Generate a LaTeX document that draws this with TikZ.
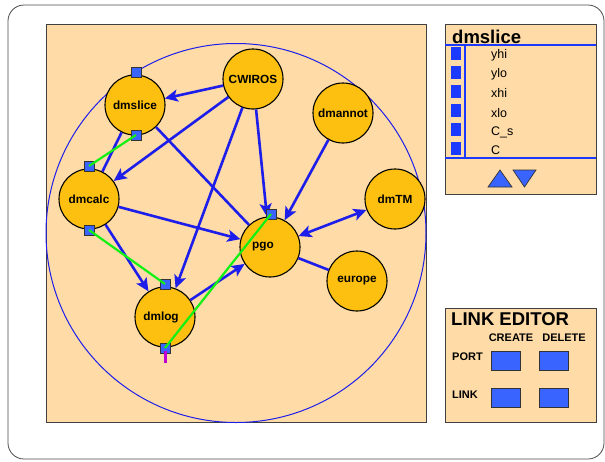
\documentclass[tikz,border=0pt]{standalone}
\usepackage{fontspec}
\setmainfont{Liberation Sans}
\usetikzlibrary{arrows.meta}
\definecolor{peach}{RGB}{254,219,167}
\definecolor{nodecol}{RGB}{253,192,16}
\definecolor{portblue}{RGB}{58,100,255}
\definecolor{lineblue}{RGB}{30,30,235}
\definecolor{listblue}{RGB}{28,58,255}
\definecolor{linkgreen}{RGB}{20,240,20}
\definecolor{magentaline}{RGB}{190,0,210}
\tikzset{
  proc/.style={circle, minimum size=60pt, inner sep=0pt, fill=nodecol, draw=black, line width=1.1pt, font=\fontsize{11.8}{13}\selectfont\bfseries},
  portbox/.style={rectangle, minimum size=10pt, inner sep=0pt, fill=portblue, draw=black!80, line width=0.6pt},
  conn/.style={draw=lineblue, line width=2.6pt},
  arr/.style={conn, -{Stealth[length=13pt,width=12pt,inset=3pt]}},
  darr/.style={conn, {Stealth[length=13pt,width=12pt,inset=3pt]}-{Stealth[length=13pt,width=12pt,inset=3pt]}},
  glink/.style={draw=linkgreen, line width=2.2pt},
  panel/.style={fill=peach, draw=black!75, line width=0.9pt},
  btn/.style={rectangle, minimum width=29pt, minimum height=19pt, inner sep=0pt, fill=portblue, draw=black!80, line width=0.7pt},
  listbox/.style={rectangle, minimum width=10pt, minimum height=13pt, inner sep=0pt, fill=listblue},
  listtxt/.style={anchor=west, inner sep=0pt, font=\fontsize{12.5}{14}\selectfont},
  edtxt/.style={inner sep=0pt, font=\fontsize{11}{13}\selectfont\bfseries},
}
\begin{document}
\begin{tikzpicture}[x=1pt,y=-1pt]
\useasboundingbox (0,0) rectangle (605,461);
% outer frame
\draw[draw=black!70, line width=0.8pt, fill=white, rounded corners=16pt] (8,5) rectangle (604,459);
% canvas
\draw[panel] (46,24) rectangle (426,422);
\draw[draw=lineblue, line width=1pt] (236,233) ellipse [x radius=190, y radius=189.5];
% process nodes
\node[proc] (dmslice) at (135,105) {dmslice};
\node[proc] (cwiros) at (253,79) {CWIROS};
\node[proc] (dmannot) at (343,113) {dmannot};
\node[proc] (dmcalc) at (89,199) {dmcalc};
\node[proc] (dmtm) at (395,199) {dmTM};
\node[proc] (pgo) at (270,247) {\hspace*{-14pt}pgo};
\node[proc] (europe) at (357,281) {europe};
\node[proc] (dmlog) at (165,317) {\hspace*{-8pt}dmlog};
% connectors
\draw[arr] (cwiros) -- (dmslice);
\draw[arr] (cwiros) -- (dmcalc);
\draw[arr] (cwiros) -- (dmlog);
\draw[arr] (cwiros) -- (pgo);
\draw[arr] (dmannot) -- (pgo);
\draw[conn] (dmslice) -- (pgo);
\draw[conn] (dmslice) -- (dmcalc);
\draw[arr] (dmcalc) -- (pgo);
\draw[arr] (dmcalc) -- (dmlog);
\draw[arr] (dmlog) -- (pgo);
\draw[darr] (pgo) -- (dmtm);
\draw[conn] (pgo) -- (europe);
% ports
\node[portbox] (p1) at (136,72) {};
\node[portbox] (p2) at (136,135) {};
\node[portbox] (p3) at (89,166) {};
\node[portbox] (p4) at (89,230) {};
\node[portbox] (p5) at (165,284) {};
\node[portbox] (p6) at (165,348) {};
\node[portbox] (p7) at (271,214) {};
\coordinate (mend) at (165,363);
% links
\draw[glink] (p2.center) -- (p3.center);
\draw[glink] (p4.center) -- (p5.center);
\draw[glink] (p6.center) -- (p7.center);
\draw[draw=magentaline, line width=3pt] (p6.center) ++(0,3) -- (mend);
% list panel
\draw[panel] (445,24) rectangle (596,194);
\node[anchor=base west, inner sep=0pt, font=\fontsize{18.5}{20}\selectfont\bfseries] (ttl) at (452,43) {dmslice};
\draw[draw=listblue, line width=2pt] (445,45) -- (596,45);
\draw[draw=listblue, line width=2pt] (445,158) -- (596,158);
\draw[draw=listblue, line width=2pt] (465,45) -- (465,158);
\node[listbox] (b1) at (456,53.5) {};
\node[listbox] (b2) at (456,72.5) {};
\node[listbox] (b3) at (456,91.5) {};
\node[listbox] (b4) at (456,110.5) {};
\node[listbox] (b5) at (456,129.5) {};
\node[listbox] (b6) at (456,148.5) {};
\node[listtxt] (t1) at (491,55) {yhi};
\node[listtxt] (t2) at (491,74) {ylo};
\node[listtxt] (t3) at (491,93) {xhi};
\node[listtxt] (t4) at (491,113) {xlo};
\node[listtxt] (t5) at (491,132) {C\_s};
\node[listtxt] (t6) at (491,150) {C};
\draw[fill=portblue, draw=black!80, line width=0.7pt] (488,187) -- (500,170) -- (512,187) -- cycle;
\draw[fill=portblue, draw=black!80, line width=0.7pt] (513,170) -- (536,170) -- (524.5,187) -- cycle;
% link editor
\draw[panel] (445,308) rectangle (596,422);
\node[anchor=base west, inner sep=0pt, font=\fontsize{18.5}{20}\selectfont\bfseries] (led) at (451,325) {LINK EDITOR};
\node[edtxt] (create) at (511,338) {CREATE};
\node[edtxt] (delete) at (564,338) {DELETE};
\node[edtxt, anchor=west] (port) at (452,357) {PORT};
\node[edtxt, anchor=west] (link) at (452,395) {LINK};
\node[btn] (bpc) at (505.5,360.5) {};
\node[btn] (bpd) at (553.5,360.5) {};
\node[btn] (blc) at (505.5,397.5) {};
\node[btn] (bld) at (553.5,397.5) {};
\end{tikzpicture}
\end{document}
